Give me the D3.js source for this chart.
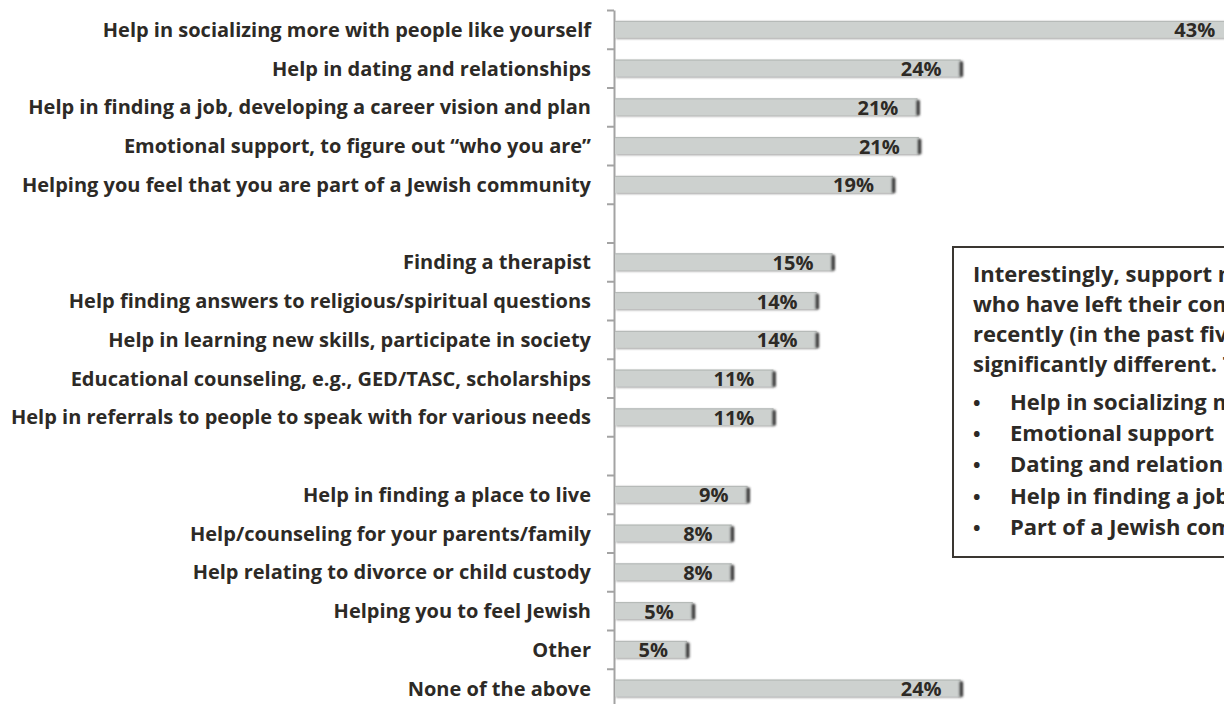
<!DOCTYPE html>
<html>
<head>
<meta charset="utf-8">
<script src="https://cdn.jsdelivr.net/npm/d3@7"></script>
<style>
  html, body { margin: 0; padding: 0; background: #ffffff; overflow: hidden; }
  svg { display: block; }
</style>
</head>
<body>
<script>
// ---------------- data ----------------
const categories = [
  "Help in socializing more with people like yourself",
  "Help in dating and relationships",
  "Help in finding a job, developing a career vision and plan",
  "Emotional support, to figure out \u201cwho you are\u201d",
  "Helping you feel that you are part of a Jewish community",
  null,
  "Finding a therapist",
  "Help finding answers to religious/spiritual questions",
  "Help in learning new skills, participate in society",
  "Educational counseling, e.g., GED/TASC, scholarships",
  "Help in referrals to people to speak with for various needs",
  null,
  "Help in finding a place to live",
  "Help/counseling for your parents/family",
  "Help relating to divorce or child custody",
  "Helping you to feel Jewish",
  "Other",
  "None of the above"
];
const values = [43, 24, 21.0, 21.1, 19.3, null, 15.1, 14.0, 14.0, 11.0, 11.0, null, 9.2, 8.1, 8.1, 5.4, 5.0, 24];
const valueLabels = ["43%", "24%", "21%", "21%", "19%", null, "15%", "14%", "14%", "11%", "11%", null, "9%", "8%", "8%", "5%", "5%", "24%"];

// note box text (the box runs past the right edge of the picture; only the visible part is shown)
const noteLines = [
  "Interestingly, support n",
  "who have left their com",
  "recently (in the past fiv",
  "significantly different. T"
];
const noteBullets = [
  "Help in socializing m",
  "Emotional support",
  "Dating and relations",
  "Help in finding a job",
  "Part of a Jewish com"
];

// ---------------- layout ----------------
const W = 1224, H = 704;
const FONT = "'Open Sans', 'Noto Sans', sans-serif";
const FS = 20;
const FS_NOTE = 22;
const TEXT = "#2d2a26";
const axisX = 614;
const barH = 17;

const svg = d3.select("body").append("svg").attr("width", W).attr("height", H);

const defs = svg.append("defs");
const sh = defs.append("filter").attr("id", "shadow").attr("x", "-5%").attr("y", "-40%").attr("width", "110%").attr("height", "190%");
sh.append("feGaussianBlur").attr("in", "SourceAlpha").attr("stdDeviation", 1.1).attr("result", "b");
sh.append("feOffset").attr("in", "b").attr("dx", 1).attr("dy", 1.3).attr("result", "o");
sh.append("feFlood").attr("flood-color", "#7a7a7a").attr("flood-opacity", 0.75).attr("result", "f");
sh.append("feComposite").attr("in", "f").attr("in2", "o").attr("operator", "in").attr("result", "s");
const m = sh.append("feMerge");
m.append("feMergeNode").attr("in", "s");
m.append("feMergeNode").attr("in", "SourceGraphic");
const bl = defs.append("filter").attr("id", "blur").attr("x", "-150%").attr("y", "-30%").attr("width", "400%").attr("height", "160%");
bl.append("feGaussianBlur").attr("stdDeviation", 1.1);

const n = categories.length;
const y0 = 10, y1 = 10 + n * 38.75;
const y = d3.scaleBand().domain(d3.range(n)).range([y0, y1]).padding(0);
const yLin = d3.scaleLinear().domain([0, n]).range([y0, y1]);
const x = d3.scaleLinear().domain([0, 10]).range([axisX + 1, axisX + 1 + 144]);

// axis with ticks at slot boundaries
const axis = d3.axisLeft(yLin).tickValues(d3.range(n + 1)).tickFormat("").tickSize(7).tickSizeOuter(0);
const ag = svg.append("g").attr("transform", `translate(${axisX},0)`).call(axis);
ag.select(".domain").attr("stroke", "#a3a3a3").attr("stroke-width", 2);
ag.selectAll(".tick line").attr("stroke", "#a3a3a3").attr("stroke-width", 2);

const rows = d3.range(n).filter(i => values[i] != null);

// category labels
svg.append("g").selectAll("text").data(rows).join("text")
  .attr("x", 591)
  .attr("y", i => y(i) + y.bandwidth() / 2 + 7.5)
  .attr("text-anchor", "end")
  .attr("font-family", FONT).attr("font-weight", 700).attr("font-size", FS)
  .attr("fill", TEXT)
  .text(i => categories[i]);

// bars
const bg = svg.append("g");
bg.selectAll("rect.bar").data(rows).join("rect")
  .attr("class", "bar")
  .attr("x", x(0))
  .attr("y", i => y(i) + (y.bandwidth() - barH) / 2)
  .attr("width", i => x(values[i]) - x(0))
  .attr("height", barH)
  .attr("fill", "#cdd1cf")
  .attr("filter", "url(#shadow)");
bg.selectAll("line.top").data(rows).join("line")
  .attr("class", "top")
  .attr("x1", x(0)).attr("x2", i => x(values[i]))
  .attr("y1", i => y(i) + (y.bandwidth() - barH) / 2 + 0.5)
  .attr("y2", i => y(i) + (y.bandwidth() - barH) / 2 + 0.5)
  .attr("stroke", "#b3b7b5").attr("stroke-width", 1);
bg.selectAll("rect.cap").data(rows).join("rect")
  .attr("class", "cap")
  .attr("x", i => x(values[i]) - 1)
  .attr("y", i => y(i) + (y.bandwidth() - barH) / 2 + 2)
  .attr("width", 3.5)
  .attr("height", barH - 2)
  .attr("fill", "#3f3f3f")
  .attr("filter", "url(#blur)");

// value labels
svg.append("g").selectAll("text").data(rows).join("text")
  .attr("x", i => x(values[i]) - 19)
  .attr("y", i => y(i) + y.bandwidth() / 2 + 8)
  .attr("text-anchor", "end")
  .attr("font-family", FONT).attr("font-weight", 700).attr("font-size", FS)
  .attr("fill", TEXT)
  .text(i => valueLabels[i]);

// note box
const box = svg.append("g");
box.append("rect").attr("x", 953).attr("y", 247).attr("width", 420).attr("height", 310)
  .attr("fill", "#ffffff").attr("stroke", "#3a3631").attr("stroke-width", 2);
box.selectAll("text.line").data(noteLines).join("text")
  .attr("class", "line")
  .attr("x", 973)
  .attr("y", (d, i) => 282 + i * 30)
  .attr("font-family", FONT).attr("font-weight", 700).attr("font-size", FS_NOTE)
  .attr("fill", TEXT)
  .text(d => d);
const bul = box.selectAll("g.bul").data(noteBullets).join("g").attr("class", "bul")
  .attr("transform", (d, i) => `translate(0,${410 + i * 31.2})`);
bul.append("text").attr("x", 973).attr("y", 0)
  .attr("font-family", FONT).attr("font-weight", 700).attr("font-size", FS)
  .attr("fill", TEXT).text("\u2022");
bul.append("text").attr("x", 1010).attr("y", 0)
  .attr("font-family", FONT).attr("font-weight", 700).attr("font-size", FS_NOTE)
  .attr("fill", TEXT).text(d => d);
</script>
</body>
</html>
